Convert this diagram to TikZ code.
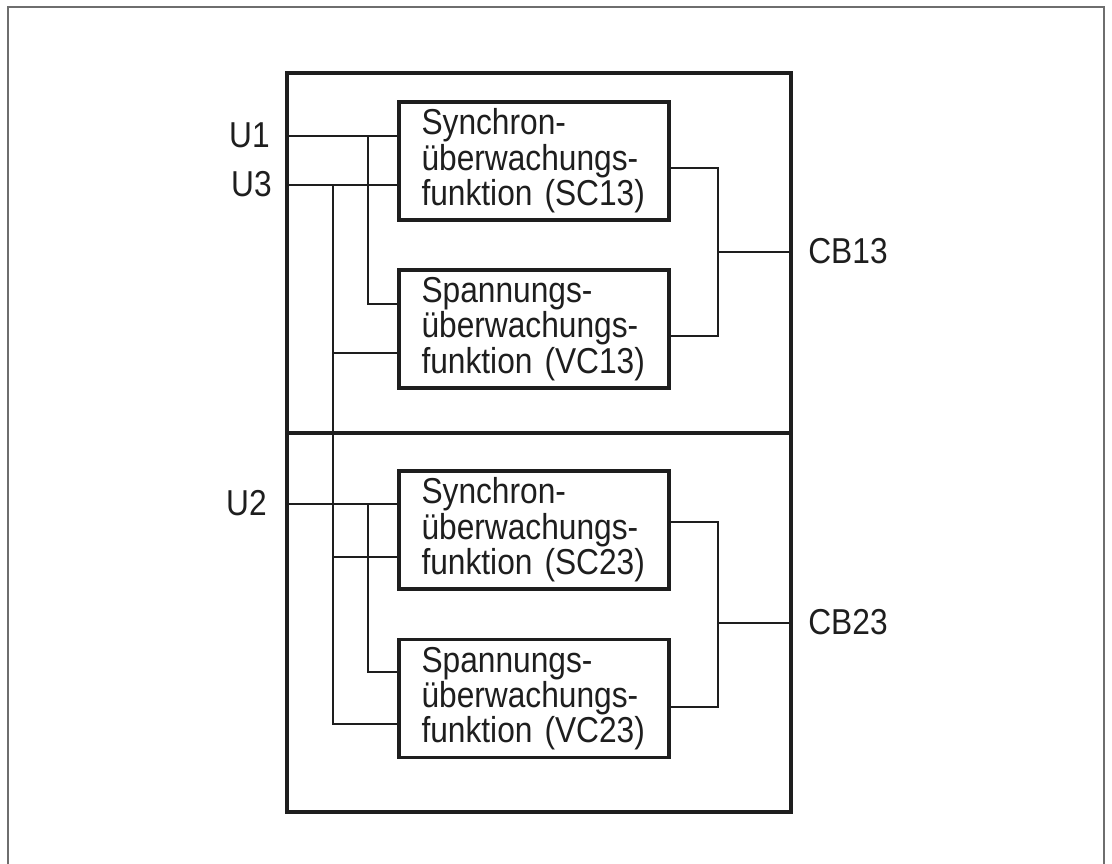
\documentclass[tikz,border=0pt]{standalone}
\usepackage{fontspec}
\setmainfont{Liberation Sans}[FakeStretch=0.88]
\usepackage{tikz}
\usetikzlibrary{positioning,calc}
\definecolor{inkgray}{RGB}{30,30,30}
\definecolor{framegray}{RGB}{110,110,110}
\newcommand{\boxfont}{\fontsize{20.5}{16.5}\selectfont}

\begin{document}
\begin{tikzpicture}[x=0.02cm, y=-0.02cm,
    func/.style={rectangle, draw=inkgray, line width=2pt, minimum width=5.4cm,
        minimum height=2.36cm, text width=4.5cm, align=left, inner sep=0pt,
        text=inkgray, font=\boxfont},
    wire/.style={draw=inkgray, line width=0.8pt},
    lbl/.style={inner sep=0pt, text=inkgray, font=\boxfont}]

    \useasboundingbox (0,0) rectangle (1112,864);

    % Frame (open at the bottom)
    \draw[framegray, line width=0.9pt] (8,864) -- (8,7) -- (1104,7) -- (1104,864);

    % Outer device box
    \draw[inkgray, line width=2pt] (287,73) rectangle (791,812);
    \draw[inkgray, line width=2pt] (287,433) -- (791,433);

    % Function blocks
    \node[func] (sc13) at (534,161) {Synchron-\\überwachungs-\\funktion (SC13)};
    \node[func] (vc13) at (534,329) {Spannungs-\\überwachungs-\\funktion (VC13)};
    \node[func] (sc23) at (534,530) {Synchron-\\überwachungs-\\funktion (SC23)};
    \node[func] (vc23) at (534,698.5) {Spannungs-\\überwachungs-\\funktion (VC23)};

    % Inputs
    \coordinate (u1) at (287,136);
    \coordinate (u3) at (287,185);
    \coordinate (u2) at (287,504);
    \node[lbl, anchor=east] (lu1) at (270,135) {U1};
    \node[lbl, anchor=east] (lu3) at (272,184) {U3};
    \node[lbl, anchor=east] (lu2) at (267,503) {U2};

    \draw[wire] (u1) -- (sc13.west |- u1);
    \draw[wire] (u3) -- (sc13.west |- u3);
    \draw[wire] (u2) -- (sc23.west |- u2);

    % Branches
    \draw[wire] (368,136) |- (vc13.west |- 0,304);
    \draw[wire] (333,185) |- (vc23.west |- 0,724);
    \draw[wire] (333,353) -- (vc13.west |- 0,353);
    \draw[wire] (333,557) -- (sc23.west |- 0,557);
    \draw[wire] (368,504) |- (vc23.west |- 0,672);

    % Outputs
    \coordinate (cb13) at (791,252);
    \coordinate (cb23) at (791,623);
    \node[lbl, anchor=west] (lcb13) at (808,251) {CB13};
    \node[lbl, anchor=west] (lcb23) at (808,622) {CB23};

    \draw[wire] (sc13.east |- 0,168) -| (718,336) -- (vc13.east |- 0,336);
    \draw[wire] (718,252) -- (cb13);
    \draw[wire] (sc23.east |- 0,522) -| (718,707) -- (vc23.east |- 0,707);
    \draw[wire] (718,623) -- (cb23);
\end{tikzpicture}
\end{document}
